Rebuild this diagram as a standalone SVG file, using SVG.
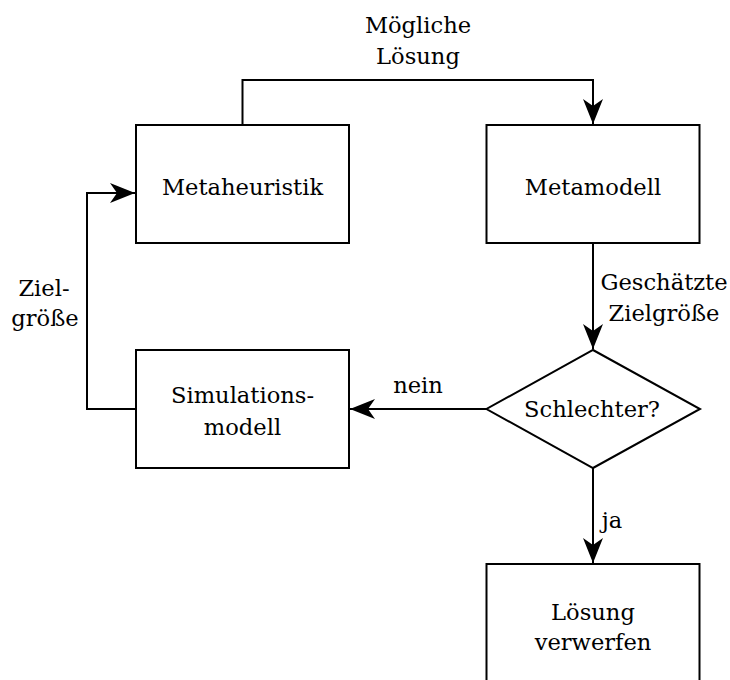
<svg xmlns="http://www.w3.org/2000/svg" width="730" height="680" viewBox="0 0 730 680">
  <style>
    .box { fill: #ffffff; stroke: #000000; stroke-width: 2; }
    .edge { fill: none; stroke: #000000; stroke-width: 2; }
    text { font-family: "DejaVu Serif", "Liberation Serif", serif; font-size: 22.6px; fill: #000000; text-anchor: middle; }
  </style>
  <defs>
    <marker id="arrow" markerUnits="userSpaceOnUse" markerWidth="30" markerHeight="24" viewBox="-26 -12 28 24" refX="0" refY="0" orient="auto">
      <path d="M0,0 L-25,-10 L-18,0 L-25,10 Z" fill="#000000"/>
    </marker>
  </defs>

  <!-- connectors and their labels -->
  <g id="connectors">
    <path class="edge" d="M242.5,125 V80 H593 V124" marker-end="url(#arrow)"/>
    <path class="edge" d="M593,243 V349" marker-end="url(#arrow)"/>
    <path class="edge" d="M486.5,409 H350" marker-end="url(#arrow)"/>
    <path class="edge" d="M136,409 H87 V193 H135" marker-end="url(#arrow)"/>
    <path class="edge" d="M593,468 V563" marker-end="url(#arrow)"/>
    <text x="418" y="33">Mögliche</text>
    <text x="418" y="64">Lösung</text>
    <text x="664" y="290">Geschätzte</text>
    <text x="664" y="321">Zielgröße</text>
    <text x="418" y="393">nein</text>
    <text x="44" y="296">Ziel-</text>
    <text x="45" y="326">größe</text>
    <text x="612" y="528">ja</text>
  </g>

  <g id="metaheuristik">
    <rect class="box" x="136" y="125" width="213" height="118"/>
    <text x="242.5" y="195">Metaheuristik</text>
  </g>

  <g id="metamodell">
    <rect class="box" x="486.5" y="125" width="213" height="118"/>
    <text x="593" y="195">Metamodell</text>
  </g>

  <g id="simulationsmodell">
    <rect class="box" x="136" y="350" width="213" height="118"/>
    <text x="242.5" y="403">Simulations-</text>
    <text x="242.5" y="435">modell</text>
  </g>

  <g id="schlechter">
    <path class="box" d="M593,350 L700,409 L593,468 L486.5,409 Z"/>
    <text x="592" y="417">Schlechter?</text>
  </g>

  <g id="loesung-verwerfen">
    <rect class="box" x="486.5" y="564" width="213" height="130"/>
    <text x="593" y="620">Lösung</text>
    <text x="593" y="650">verwerfen</text>
  </g>
</svg>
